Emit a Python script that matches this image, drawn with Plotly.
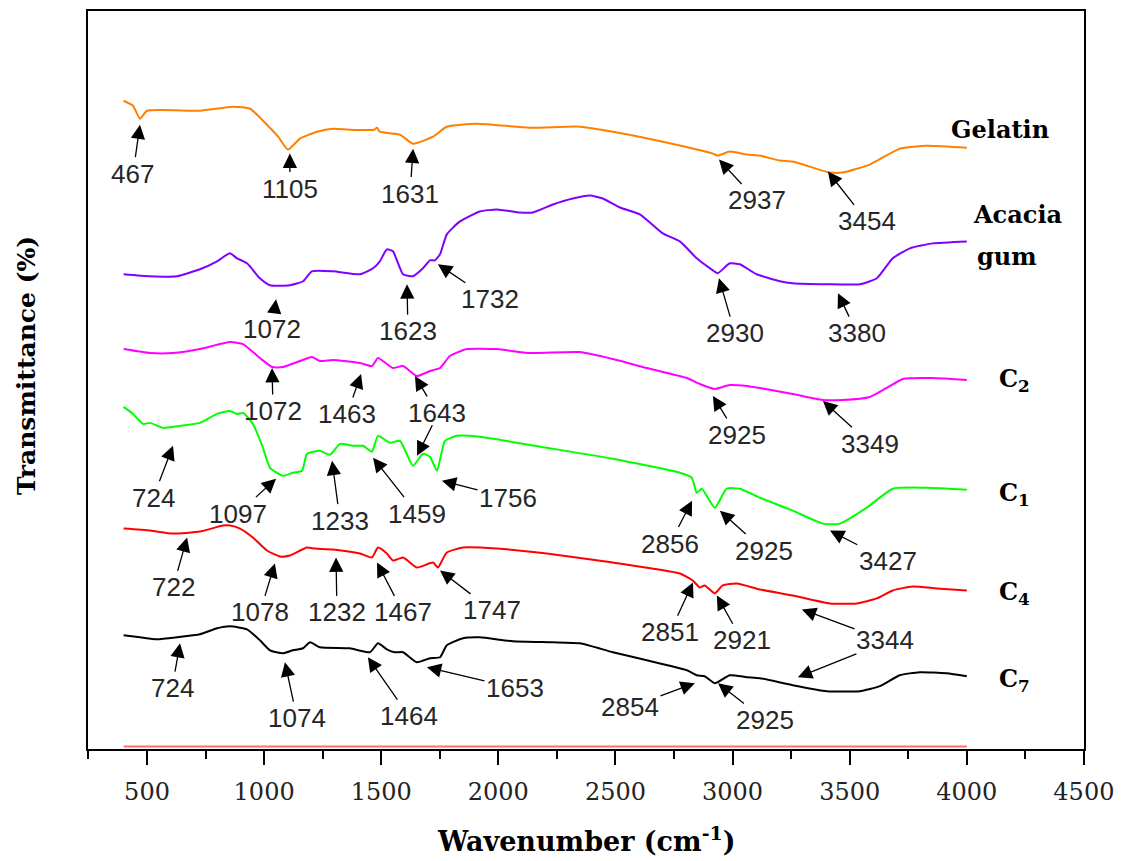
import plotly.graph_objects as go

# ---- FTIR spectra (wavenumber in cm-1, stacked transmittance in arbitrary offset units) ----
gelatin_wn = [400, 440, 470, 500, 726, 867, 940, 1012, 1060, 1102, 1153, 1226, 1294, 1366, 1470, 1482,
              1494, 1580, 1635, 1721, 1780, 1908, 2135, 2348, 2489, 2702, 2916, 2937, 2988, 3061, 3116,
              3202, 3257, 3415, 3471, 3586, 3714, 3829, 4000]
gelatin_t = [65.0, 64.5, 63.2, 64.0, 64.0, 64.4, 64.2, 62.6, 61.4, 60.1, 61.2, 61.9, 62.2, 62.1, 62.1, 62.3,
             61.9, 61.6, 60.7, 61.4, 62.4, 62.7, 62.3, 62.4, 61.9, 60.9, 59.7, 59.5, 59.9, 59.6, 59.5,
             59.0, 58.9, 57.8, 57.8, 58.6, 60.2, 60.5, 60.3]

acacia_wn = [400, 513, 628, 726, 799, 854, 884, 927, 982, 1025, 1110, 1166, 1204, 1294, 1409, 1465, 1494,
             1524, 1550, 1593, 1635, 1678, 1708, 1729, 1751, 1780, 1836, 1921, 1994, 2092, 2147, 2233,
             2318, 2391, 2446, 2519, 2604, 2702, 2775, 2847, 2916, 2937, 2988, 3031, 3103, 3202, 3257,
             3402, 3543, 3616, 3684, 3757, 3855, 4000]
acacia_t = [47.6, 47.4, 47.4, 48.1, 48.9, 49.7, 49.2, 48.7, 47.2, 46.5, 46.5, 46.9, 47.9, 47.9, 47.6, 48.2, 48.9,
            50.1, 49.9, 47.6, 47.4, 48.2, 49.0, 49.0, 49.6, 51.6, 52.9, 53.9, 54.1, 53.8, 53.8, 54.6,
            55.2, 55.5, 55.2, 54.3, 53.6, 51.7, 50.9, 49.2, 48.0, 47.7, 48.7, 48.6, 47.6, 46.9, 46.7,
            46.6, 46.6, 47.2, 49.2, 50.2, 50.7, 50.9]

c2_wn = [400, 513, 611, 726, 854, 910, 982, 1034, 1080, 1153, 1204, 1238, 1294, 1409, 1460, 1486, 1524,
         1550, 1593, 1652, 1708, 1751, 1793, 1866, 1994, 2135, 2348, 2489, 2634, 2805, 2860, 2924, 2988,
         3061, 3116, 3257, 3385, 3471, 3586, 3658, 3727, 3855, 4000]
c2_t = [40.1, 39.7, 39.7, 40.1, 40.8, 40.6, 39.2, 38.3, 38.3, 38.9, 39.3, 38.9, 39.0, 38.7, 38.4, 39.2, 38.6,
        38.2, 38.4, 37.4, 37.9, 38.2, 39.4, 40.1, 40.1, 39.7, 39.8, 39.1, 38.2, 37.2, 36.6, 36.1, 36.5,
        36.4, 36.2, 35.6, 35.0, 35.0, 35.3, 36.2, 37.1, 37.2, 37.0]

c1_wn = [400, 440, 483, 513, 568, 641, 726, 799, 854, 884, 910, 952, 995, 1025, 1080, 1123, 1162, 1183,
         1238, 1281, 1324, 1379, 1422, 1460, 1486, 1537, 1580, 1635, 1678, 1708, 1738, 1772, 1823, 1921,
         2207, 2489, 2775, 2826, 2847, 2869, 2924, 2975, 3031, 3116, 3257, 3385, 3458, 3573, 3684,
         3829, 4000]
c1_t = [34.3, 33.6, 32.6, 32.7, 32.2, 32.4, 32.7, 33.6, 33.9, 33.6, 33.7, 32.6, 30.2, 28.2, 27.4, 27.7, 27.9, 29.6,
        29.9, 29.5, 30.6, 30.4, 30.4, 29.8, 31.4, 30.7, 30.9, 28.4, 29.6, 29.3, 27.9, 30.9, 31.4, 31.3,
        30.2, 29.1, 27.7, 27.2, 25.7, 26.1, 24.2, 26.1, 26.1, 25.2, 23.9, 22.6, 22.6, 24.2, 26.1,
        26.2, 26.0]

c4_wn = [400, 513, 611, 726, 824, 854, 897, 952, 1012, 1068, 1110, 1183, 1217, 1294, 1409, 1460, 1486, 1524,
         1550, 1593, 1652, 1721, 1742, 1780, 1849, 1994, 2207, 2489, 2775, 2830, 2860, 2881, 2924, 2958,
         3018, 3116, 3257, 3415, 3530, 3616, 3684, 3769, 3872, 4000]
c4_t = [22.1, 21.9, 21.6, 21.8, 22.4, 22.4, 22.1, 21.2, 19.9, 19.3, 19.4, 20.2, 20.1, 20.0, 19.6, 19.2, 20.2, 19.6,
        18.9, 19.2, 18.2, 18.7, 18.2, 19.7, 20.2, 20.1, 19.6, 18.7, 17.6, 16.9, 16.2, 16.4, 15.6, 16.4,
        16.6, 16.0, 15.4, 14.6, 14.6, 15.1, 15.9, 16.3, 16.1, 15.9]

c7_wn = [400, 470, 543, 628, 726, 799, 854, 927, 982, 1025, 1080, 1123, 1166, 1196, 1238, 1366, 1452, 1486,
         1524, 1558, 1593, 1652, 1708, 1751, 1780, 1849, 1921, 2062, 2233, 2348, 2489, 2634, 2805, 2847,
         2881, 2924, 2988, 3061, 3116, 3257, 3402, 3543, 3629, 3714, 3799, 3914, 4000]
c7_t = [11.4, 11.2, 11.0, 11.2, 11.5, 12.1, 12.3, 12.0, 10.9, 9.9, 9.6, 9.9, 10.1, 10.7, 10.2, 10.1, 9.7, 10.6,
        10.0, 9.7, 9.7, 8.7, 9.1, 9.2, 10.4, 11.1, 11.2, 10.8, 10.7, 10.6, 9.7, 8.9, 7.9, 7.4,
        7.3, 6.6, 7.4, 7.2, 7.1, 6.4, 5.8, 5.8, 6.3, 7.4, 7.7, 7.6, 7.3]

baseline_wn = [400, 4000]
baseline_t = [0.25, 0.25]

series = [
    ("Gelatin", gelatin_wn, gelatin_t, "#FF8000"),
    ("Acacia gum", acacia_wn, acacia_t, "#8000FF"),
    ("C2", c2_wn, c2_t, "#FF00FF"),
    ("C1", c1_wn, c1_t, "#00FF00"),
    ("C4", c4_wn, c4_t, "#FF0000"),
    ("C7", c7_wn, c7_t, "#000000"),
]

# Curve names written at the right end of each spectrum: (text, wavenumber, level)
curve_labels = [
    ("Gelatin", 4141, 62.1),
    ("Acacia", 4218, 53.6),
    ("gum", 4171, 49.4),
    ("C<sub>2</sub>", 4205, 37.0),
    ("C<sub>1</sub>", 4205, 25.6),
    ("C<sub>4</sub>", 4205, 15.6),
    ("C<sub>7</sub>", 4205, 6.9),
]

# Band assignments: (label, label wavenumber, label level, arrow tip (wn, level),
#                    extra arrows [(tip wn, tip level, ax px, ay px), ...])
peak_labels = [
    ("467", 440, 57.7, (470, 62.6), []),
    ("1105", 1110, 56.2, (1110, 59.7), []),
    ("1631", 1623, 55.7, (1636, 60.2), []),
    ("2937", 3104, 55.0, (2942, 59.1), []),
    ("3454", 3574, 52.9, (3407, 57.9), []),
    ("1072", 1034, 42.1, (1051, 45.1), []),
    ("1623", 1614, 41.9, (1610, 46.6), []),
    ("1732", 1964, 45.1, (1742, 48.6), []),
    ("2930", 3010, 41.7, (2942, 47.2), []),
    ("3380", 3531, 41.7, (3450, 45.7), []),
    ("1072", 1038, 33.9, (1034, 38.2), []),
    ("1463", 1354, 33.6, (1414, 37.6), []),
    ("1643", 1738, 33.7, (1644, 37.4), [(1653, 29.4, 16, -32)]),
    ("2925", 3019, 31.5, (2916, 35.4), []),
    ("3349", 3587, 30.6, (3386, 34.9), []),
    ("724", 526, 25.2, (611, 30.4), []),
    ("1097", 888, 23.6, (1051, 27.1), []),
    ("1233", 1324, 22.9, (1290, 28.9), []),
    ("1459", 1653, 23.6, (1465, 29.2), []),
    ("1756", 2041, 25.2, (1759, 26.9), []),
    ("2856", 2733, 20.6, (2827, 24.9), []),
    ("2925", 3134, 19.9, (2946, 23.9), []),
    ("3427", 3663, 18.9, (3416, 21.9), []),
    ("722", 611, 16.2, (671, 21.2), []),
    ("1078", 982, 13.7, (1046, 18.6), []),
    ("1232", 1311, 13.7, (1307, 19.2), []),
    ("1467", 1593, 13.7, (1482, 18.7), []),
    ("1747", 1973, 13.9, (1751, 17.9), []),
    ("2851", 2733, 11.7, (2831, 16.7), []),
    ("2921", 3040, 10.9, (2933, 15.4), []),
    ("3344", 3651, 10.9, (3296, 14.0), [(3279, 7.2, 60, -24)]),
    ("724", 607, 6.1, (641, 10.6), []),
    ("1074", 1140, 3.1, (1089, 8.7), []),
    ("1464", 1618, 3.3, (1443, 9.2), []),
    ("1653", 2071, 6.1, (1695, 8.2), []),
    ("2854", 2562, 4.2, (2839, 6.6), []),
    ("2925", 3138, 2.9, (2938, 6.6), []),
]

x_ticks = [500, 1000, 1500, 2000, 2500, 3000, 3500, 4000, 4500]

fig = go.Figure()
for name, wn, t, color in series:
    fig.add_trace(go.Scatter(x=wn, y=t, mode="lines", name=name,
                             line=dict(color=color, width=2, shape="spline", smoothing=0.5)))
fig.add_trace(go.Scatter(x=baseline_wn, y=baseline_t, mode="lines",
                         line=dict(color="rgba(255,60,60,0.75)", width=2)))

arrow_style = dict(arrowhead=2, arrowsize=2.2, arrowwidth=1.3, arrowcolor="black")
label_font = dict(family="Liberation Sans", size=26, color="#262626")

annotations = []
for text, x, y in curve_labels:
    annotations.append(dict(x=x, y=y, text=text, showarrow=False, xanchor="center", yanchor="middle",
                            font=dict(family="DejaVu Serif", size=24, color="black", weight="bold")))

for text, lx, ly, (tx, ty), extra in peak_labels:
    # the label sits at the arrow tail; the arrow runs from the label box to the band
    annotations.append(dict(x=tx, y=ty, ax=lx, ay=ly, axref="x", ayref="y", text=text,
                            showarrow=True, standoff=0, font=label_font, **arrow_style))
    for ex, ey, ax, ay in extra:
        annotations.append(dict(x=ex, y=ey, ax=ax, ay=ay, text="", showarrow=True, **arrow_style))

annotations.append(dict(xref="paper", yref="paper", x=0.5, y=-0.122, text="Wavenumber (cm<sup>-1</sup>)",
                        showarrow=False, xanchor="center", yanchor="middle",
                        font=dict(family="DejaVu Serif", size=27, color="black", weight="bold")))
annotations.append(dict(xref="paper", yref="paper", x=-0.0612, y=0.519, text="Transmittance (%)",
                        textangle=-90, showarrow=False, xanchor="center", yanchor="middle",
                        font=dict(family="DejaVu Serif", size=25, color="black", weight="bold")))

fig.update_layout(
    width=1126, height=861,
    margin=dict(l=88, r=42, t=9, b=112),
    paper_bgcolor="white", plot_bgcolor="white",
    showlegend=False,
    annotations=annotations,
    xaxis=dict(range=[248, 4500.5], tickvals=x_ticks, ticktext=[str(v) for v in x_ticks],
               ticks="outside", ticklen=14, tickwidth=2, tickcolor="black",
               minor=dict(tickvals=[v - 250 for v in x_ticks], ticks="outside", ticklen=8,
                          tickwidth=2, tickcolor="black"),
               showline=True, linewidth=2, linecolor="black", mirror=True,
               showgrid=False, zeroline=False, ticklabelstandoff=6,
               tickfont=dict(family="DejaVu Serif", size=24, color="#222")),
    yaxis=dict(range=[0, 74], showticklabels=False, ticks="",
               showline=True, linewidth=2, linecolor="black", mirror=True,
               showgrid=False, zeroline=False),
)

fig.write_html("out.html")
